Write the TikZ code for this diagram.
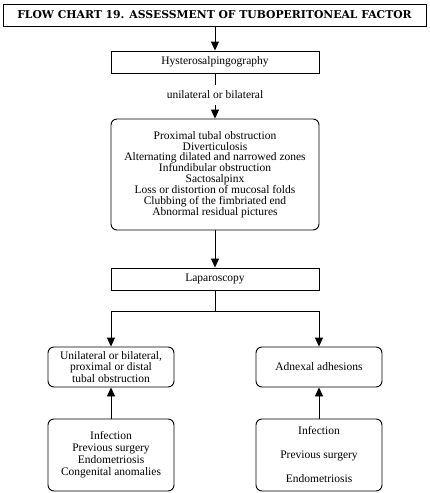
\documentclass[tikz,border=0pt]{standalone}
\usepackage{fontspec}
\setmainfont{Liberation Serif}
\newfontfamily\titlefont{DejaVu Serif}
\usetikzlibrary{arrows.meta}
\begin{document}
\begin{tikzpicture}[x=1pt,y=-1pt,
  every node/.style={font=\fontsize{11.5}{11.7}\selectfont, align=center, inner sep=0pt},
  sqbox/.style={draw, line width=0.9pt, minimum width=208pt, minimum height=22pt},
  rbox/.style={draw, line width=0.9pt, rounded corners=6pt, minimum width=126pt},
  conn/.style={line width=0.9pt},
  arr/.style={conn, -{Triangle[length=9pt,width=8pt]}}]
\useasboundingbox (0,0) rectangle (429,493);
\node[draw, line width=0.9pt, minimum width=423pt, minimum height=22pt,
  font=\titlefont\bfseries\fontsize{10.8}{11}\selectfont] (title) at (214.5,15)
  {FLOW CHART 19. ASSESSMENT OF TUBOPERITONEAL FACTOR};
\node[sqbox] (hys) at (215,62) {Hysterosalpingography};
\node[inner ysep=6pt] (lab) at (215,95) {unilateral or bilateral};
\node[rbox, minimum width=208pt, minimum height=111pt,
  font=\fontsize{11.5}{10.85}\selectfont] (big) at (215,174.5)
  {Proximal tubal obstruction\\Diverticulosis\\Alternating dilated and narrowed zones\\Infundibular obstruction\\Sactosalpinx\\Loss or distortion of mucosal folds\\Clubbing of the fimbriated end\\Abnormal residual pictures};
\node[sqbox] (lap) at (215,279) {Laparoscopy};
\coordinate (split) at (215,311);
\node[rbox, minimum height=40pt] (ul) at (111,367)
  {Unilateral or bilateral,\\proximal or distal\\tubal obstruction};
\node[rbox, minimum height=40pt] (ur) at (319,367) {Adnexal adhesions};
\node[rbox, minimum height=72pt, font=\fontsize{11.5}{12}\selectfont] (ll) at (111,455)
  {Infection\\Previous surgery\\Endometriosis\\Congenital anomalies};
\node[rbox, minimum height=72pt, font=\fontsize{11.5}{24}\selectfont] (lr) at (319,455)
  {Infection\\Previous surgery\\Endometriosis};
\draw[arr] (title.south -| hys.north) -- (hys.north);
\draw[conn] (hys.south) -- (lab.north);
\draw[arr] (lab.south) -- (big.north);
\draw[arr] (big.south) -- (lap.north);
\draw[conn] (lap.south) -- (split);
\draw[arr] (split) -| (ul.north);
\draw[arr] (split) -| (ur.north);
\draw[arr] (ll.north) -- (ul.south);
\draw[arr] (lr.north) -- (ur.south);
\end{tikzpicture}
\end{document}
